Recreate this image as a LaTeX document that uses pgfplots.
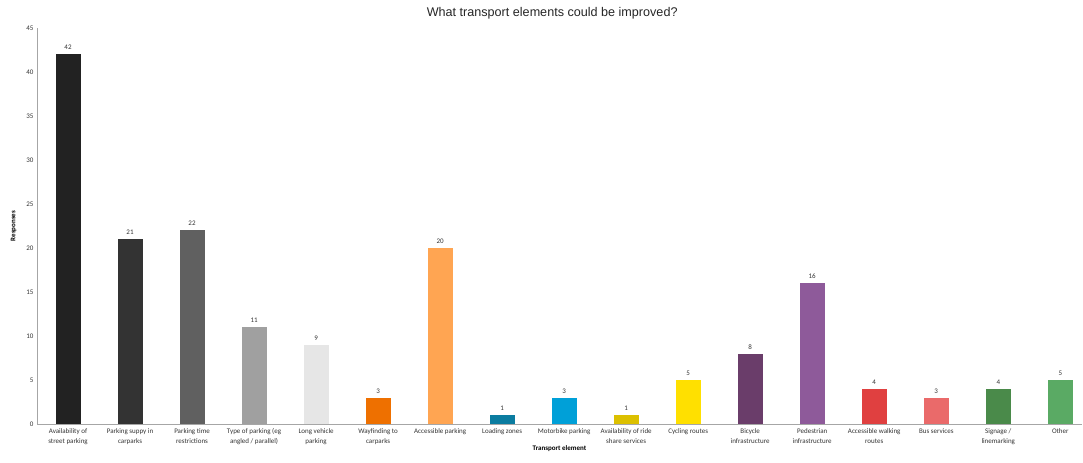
\documentclass[border=0pt]{standalone}
\usepackage{fontspec}
\setmainfont{Carlito}
\newfontfamily\titlefont{Liberation Sans}
\usepackage{pgfplots}
\pgfplotsset{compat=1.18}
\definecolor{c1}{HTML}{222222}
\definecolor{c2}{HTML}{333333}
\definecolor{c3}{HTML}{606060}
\definecolor{c4}{HTML}{A0A0A0}
\definecolor{c5}{HTML}{E6E6E6}
\definecolor{c6}{HTML}{EE7000}
\definecolor{c7}{HTML}{FFA552}
\definecolor{c8}{HTML}{0B7CA0}
\definecolor{c9}{HTML}{00A0D8}
\definecolor{c10}{HTML}{DCC000}
\definecolor{c11}{HTML}{FFE000}
\definecolor{c12}{HTML}{6A3D6A}
\definecolor{c13}{HTML}{8E5A9A}
\definecolor{c14}{HTML}{E04040}
\definecolor{c15}{HTML}{EA6A6A}
\definecolor{c16}{HTML}{4A8A4A}
\definecolor{c17}{HTML}{5AAA64}
\begin{document}
\begin{tikzpicture}
\begin{axis}[
  scale only axis,
  width=1045pt, height=396pt,
  ybar, bar width=25pt, bar shift=0pt,
  xmin=-0.5, xmax=16.35,
  ymin=0, ymax=45,
  ytick={0,5,...,45},
  xtick={0,...,16},
  xticklabels={{Availability of\\street parking},{Parking suppy in\\carparks},{Parking time\\restrictions},{Type of parking (eg\\angled / parallel)},{Long vehicle\\parking},{Wayfinding to\\carparks},{Accessible parking},{Loading zones},{Motorbike parking},{Availability of ride\\share services},{Cycling routes},{Bicycle\\infrastructure},{Pedestrian\\infrastructure},{Accessible walking\\routes},{Bus services},{Signage /\\linemarking},{Other}},
  xticklabel style={align=center, font=\fontsize{7}{10}\selectfont, text=black!80, yshift=-1pt},
  yticklabel style={font=\fontsize{7}{8}\selectfont, text=black!80},
  /pgf/number format/assume math mode=true,
  major tick length=0pt,
  axis x line*=bottom, axis y line*=left,
  axis line style={gray!70, line width=0.8pt},
  x axis line style={-}, y axis line style={-},
  xlabel={\textbf{Transport element}},
  xlabel style={font=\fontsize{7}{8}\selectfont, yshift=6pt},
  ylabel={\textbf{Responses}},
  ylabel style={font=\fontsize{7}{8}\selectfont, yshift=3pt},
  title={\titlefont\fontsize{12.6}{14}\selectfont What transport elements could be improved?},
  title style={at={(0.493,1)}, anchor=south, yshift=-1pt, text=black!85},
  nodes near coords,
  nodes near coords style={font=\fontsize{7}{8}\selectfont, text=black!80, yshift=1pt},
  clip=false,
]
\addplot[fill=c1, draw=none] coordinates {(0,42)};
\addplot[fill=c2, draw=none] coordinates {(1,21)};
\addplot[fill=c3, draw=none] coordinates {(2,22)};
\addplot[fill=c4, draw=none] coordinates {(3,11)};
\addplot[fill=c5, draw=none] coordinates {(4,9)};
\addplot[fill=c6, draw=none] coordinates {(5,3)};
\addplot[fill=c7, draw=none] coordinates {(6,20)};
\addplot[fill=c8, draw=none] coordinates {(7,1)};
\addplot[fill=c9, draw=none] coordinates {(8,3)};
\addplot[fill=c10, draw=none] coordinates {(9,1)};
\addplot[fill=c11, draw=none] coordinates {(10,5)};
\addplot[fill=c12, draw=none] coordinates {(11,8)};
\addplot[fill=c13, draw=none] coordinates {(12,16)};
\addplot[fill=c14, draw=none] coordinates {(13,4)};
\addplot[fill=c15, draw=none] coordinates {(14,3)};
\addplot[fill=c16, draw=none] coordinates {(15,4)};
\addplot[fill=c17, draw=none] coordinates {(16,5)};
\end{axis}
\path (current axis.south west) ++(-37pt,-38pt) coordinate (bl);
\path (current axis.north east) ++(1pt,28pt) coordinate (tr);
\useasboundingbox (bl) rectangle (tr);
\end{tikzpicture}
\end{document}
